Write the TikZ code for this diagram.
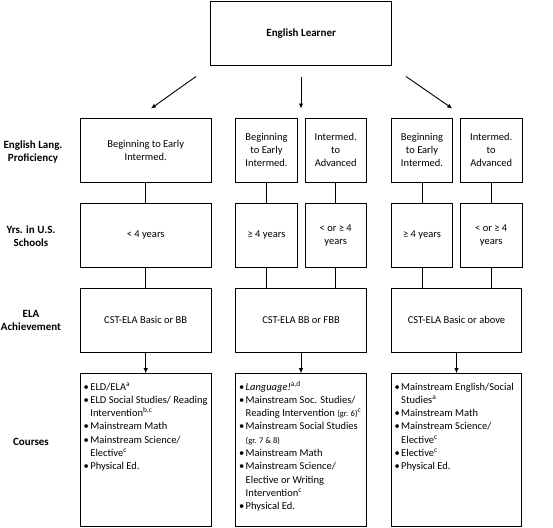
\documentclass[tikz,border=0pt]{standalone}
\usepackage{fontspec}
\setmainfont{Carlito}
\usetikzlibrary{arrows.meta}
\newcommand{\bul}{\textbullet}
\newcommand{\grade}[1]{{\fontsize{8.5}{13.3}\selectfont #1}}
\begin{document}
\begin{tikzpicture}[x=1pt, y=-1pt,
        box/.style={draw, line width=0.9pt, inner sep=1pt, outer sep=0pt, align=center, font=\fontsize{10.5}{13}\selectfont},
        wide/.style={box, minimum width=131pt, minimum height=64pt},
        narrow/.style={box, minimum width=61.5pt, minimum height=64pt},
        course/.style={box, minimum width=131pt, minimum height=153pt, inner sep=1.5pt, font=\fontsize{10.5}{13.3}\selectfont},
        rowlabel/.style={align=center, inner sep=0pt, font=\bfseries\fontsize{11}{13}\selectfont},
        arrow/.style={-{Latex[length=5pt, width=4.5pt]}, line width=0.9pt},
        link/.style={line width=0.9pt}
    ]
    \useasboundingbox (0,0) rectangle (553,527);
    % Nodes
    \node[box, minimum width=181pt, minimum height=63.6pt, font=\bfseries\fontsize{11}{13}\selectfont] (el) at (301.2,33.5) {English Learner};
    \node[rowlabel] (lprof) at (33,152) {English Lang.\\Proficiency};
    \node[rowlabel] (lyrs) at (31,236.5) {Yrs. in U.S.\\Schools};
    \node[rowlabel] (lela) at (31,320.5) {ELA\\Achievement};
    \node[rowlabel] (lcourse) at (31,442) {Courses};
    \node[wide] (p1) at (145.7,150.3) {Beginning to Early\\Intermed.};
    \node[narrow] (p2a) at (266.5,150.3) {Beginning\\to Early\\Intermed.};
    \node[narrow] (p2b) at (335.7,150.3) {Intermed.\\to\\Advanced};
    \node[narrow] (p3a) at (422,150.3) {Beginning\\to Early\\Intermed.};
    \node[narrow] (p3b) at (491.2,150.3) {Intermed.\\to\\Advanced};
    \node[wide] (y1) at (145.7,235.2) {< 4 years};
    \node[narrow] (y2a) at (266.5,235.2) {≥ 4 years};
    \node[narrow] (y2b) at (335.7,235.2) {< or ≥ 4\\years};
    \node[narrow] (y3a) at (422,235.2) {≥ 4 years};
    \node[narrow] (y3b) at (491.2,235.2) {< or ≥ 4\\years};
    \node[wide] (e1) at (145.7,320.3) {CST-ELA Basic or BB};
    \node[wide, minimum width=130.6pt] (e2) at (301,320.3) {CST-ELA BB or FBB};
    \node[wide, minimum width=130.4pt] (e3) at (456.5,320.3) {CST-ELA Basic or above};
    \node[course] (c1) at (145.7,449.7) {\parbox[c][149pt][t]{127pt}{\vspace*{5.5pt}\hspace*{1.5pt}%
        \begin{tabular}{@{}l@{\hspace{1.5pt}}l@{}}
        \bul & ELD/ELA\textsuperscript{a}\\
        \bul & ELD Social Studies/ Reading\\
            & Intervention\textsuperscript{b,c}\\
        \bul & Mainstream Math\\
        \bul & Mainstream Science/\\
            & Elective\textsuperscript{c}\\
        \bul & Physical Ed.
        \end{tabular}}};
    \node[course, minimum width=130.6pt] (c2) at (301,449.7) {\parbox[c][149pt][t]{127pt}{\vspace*{5.5pt}\hspace*{1.5pt}%
        \begin{tabular}{@{}l@{\hspace{1.5pt}}l@{}}
        \bul & \textit{Language!}\textsuperscript{a,d}\\
        \bul & Mainstream Soc. Studies/\\
            & Reading Intervention \grade{(gr. 6)}\textsuperscript{c}\\
        \bul & Mainstream Social Studies\\
            & \grade{(gr. 7 \& 8)}\\
        \bul & Mainstream Math\\
        \bul & Mainstream Science/\\
            & Elective or Writing\\
            & Intervention\textsuperscript{c}\\
        \bul & Physical Ed.
        \end{tabular}}};
    \node[course, minimum width=130.4pt] (c3) at (456.5,449.7) {\parbox[c][149pt][t]{127pt}{\vspace*{5.5pt}\hspace*{1.5pt}%
        \begin{tabular}{@{}l@{\hspace{1.5pt}}l@{}}
        \bul & Mainstream English/Social\\
            & Studies\textsuperscript{a}\\
        \bul & Mainstream Math\\
        \bul & Mainstream Science/\\
            & Elective\textsuperscript{c}\\
        \bul & Elective\textsuperscript{c}\\
        \bul & Physical Ed.
        \end{tabular}}};
    % Edges
    \coordinate (s1) at (196,76.5);
    \coordinate (t1) at (151,108.5);
    \coordinate (s2) at (301,76.5);
    \coordinate (t2) at (301,108.5);
    \coordinate (s3) at (406,76.5);
    \coordinate (t3) at (452.3,108.5);
    \draw[arrow] (s1) -- (t1);
    \draw[arrow] (s2) -- (t2);
    \draw[arrow] (s3) -- (t3);
    \foreach \a/\b in {p1/y1, p2a/y2a, p2b/y2b, p3a/y3a, p3b/y3b}
        \draw[link] (\a.south) -- (\b.north);
    \foreach \a/\b in {y1/e1, y2a/e2, y2b/e2, y3a/e3, y3b/e3}
        \draw[link] (\a.south) -- (\a.south |- \b.north);
    \foreach \a/\b in {e1/c1, e2/c2, e3/c3}
        \draw[arrow] (\a.south) -- (\b.north);
\end{tikzpicture}
\end{document}
